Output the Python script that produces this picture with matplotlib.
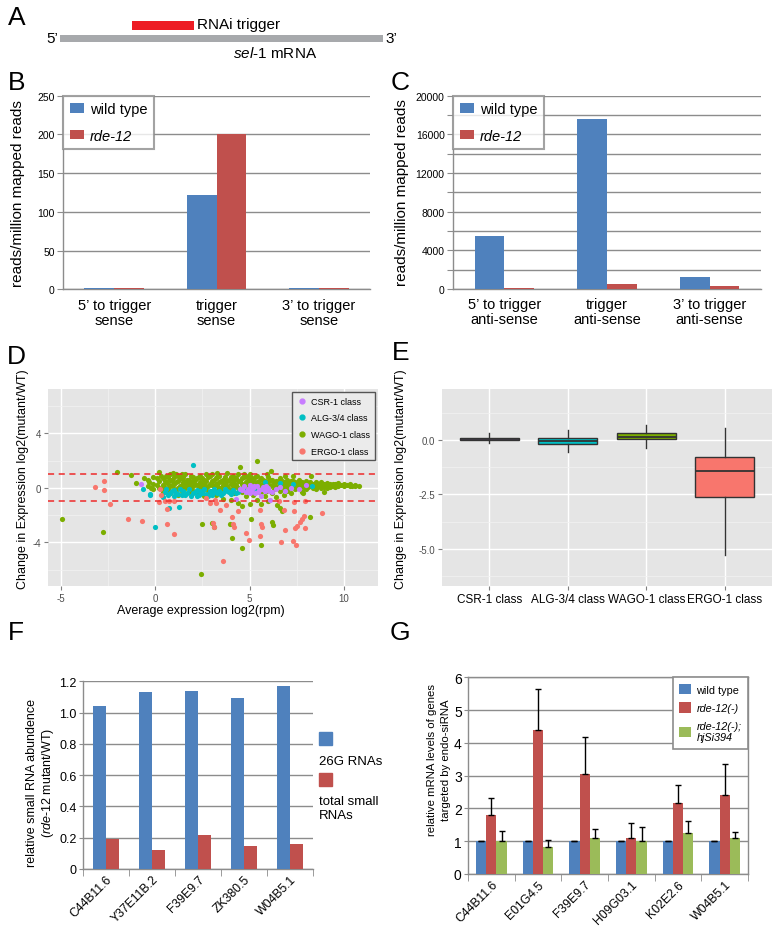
import matplotlib
matplotlib.use('Agg')
import matplotlib.pyplot as plt
from matplotlib.patches import Patch
from matplotlib.lines import Line2D
import numpy as np

plt.rcParams['font.family'] = ['Liberation Sans', 'DejaVu Sans']
plt.rcParams['mathtext.fontset'] = 'custom'
plt.rcParams['mathtext.rm'] = 'Liberation Sans'
plt.rcParams['mathtext.it'] = 'Liberation Sans:italic'
plt.rcParams['axes.unicode_minus'] = False

# ---------------- data ----------------
# A: schematic of sel-1 mRNA (arbitrary length units)
mrna_length = 1000
trigger_start, trigger_end = 223, 415

# B
b_categories = ['5\u2019 to trigger\nsense', 'trigger\nsense', '3\u2019 to trigger\nsense']
b_wild = [1.5, 122, 1.5]
b_rde = [1.5, 201, 1.5]
# C
c_categories = ['5\u2019 to trigger\nanti-sense', 'trigger\nanti-sense', '3\u2019 to trigger\nanti-sense']
c_wild = [5450, 17600, 1280]
c_rde = [100, 500, 280]

# D: scatter (average expression log2(rpm), change log2(mutant/WT))
wago_pts = [(-4.95, -2.32), (-2.76, -3.24), (-2.03, 1.16), (-1.27, 0.91), (-1.0, 0.37), (-0.57, 0.72),
            (0.23, 1.13), (0.94, 1.09), (1.45, 1.04), (2.49, -2.62), (3.0, -2.6), (3.13, -2.87),
            (2.42, -6.3), (3.98, -2.67), (4.06, -3.66), (4.5, 1.53), (4.61, -4.4), (5.07, -2.3),
            (5.39, 1.95), (5.6, -4.17), (6.13, 1.25), (6.19, -2.49), (6.22, -2.74), (6.45, -1.26),
            (6.63, -1.5), (6.72, -1.68), (8.19, -2.15), (8.27, 0.89), (7.85, -0.38), (8.93, -0.27),
            (4.72, 1.04), (5.04, 1.04), (3.3, 1.1), (2.7, 1.05), (5.9, 1.0), (6.9, 0.9), (7.3, 0.85),
            (-0.4, 0.6), (-0.4, 0.1), (-0.1, 0.8), (-0.1, 0.3), (-0.1, -0.1),
            (0.2, 0.5), (0.2, 0.0), (0.4, 0.7), (0.4, 0.2), (0.4, -0.3),
            (0.6, 0.9), (0.6, 0.4), (0.6, -0.2), (0.8, 1.0), (0.8, 0.6), (0.8, 0.1), (0.8, -0.4),
            (1.0, 0.8), (1.0, 0.3), (1.0, -0.1), (1.2, 0.5), (1.2, 0.9), (1.2, 0.0), (1.2, -0.5),
            (1.4, 0.7), (1.4, 0.2), (1.4, -0.2), (1.6, 1.0), (1.6, 0.4), (1.6, 0.0),
            (1.8, 0.6), (1.8, 0.3), (1.8, -0.3), (2.0, 0.8), (2.0, 0.5), (2.0, 0.1), (2.0, -0.2),
            (2.2, 0.7), (2.2, 0.2), (2.2, -0.4), (2.4, 0.9), (2.4, 0.4), (2.4, 0.0),
            (2.6, 0.6), (2.6, 0.3), (2.6, -0.1), (2.6, -0.6), (2.8, 0.8), (2.8, 0.1), (2.8, -0.3),
            (3.0, 1.0), (3.0, 0.5), (3.0, 0.2), (3.0, -0.2), (3.2, 0.7), (3.2, 0.3), (3.2, -0.5),
            (3.4, 0.9), (3.4, 0.4), (3.4, 0.0), (3.6, 0.6), (3.6, 0.2), (3.6, -0.3), (3.6, -0.8),
            (3.8, 1.1), (3.8, 0.5), (3.8, 0.1), (4.0, 0.8), (4.0, 0.3), (4.0, -0.2), (4.0, -0.9),
            (4.2, 0.6), (4.2, 0.2), (4.2, -0.4), (4.4, 1.0), (4.4, 0.5), (4.4, 0.0), (4.4, -1.1),
            (4.6, 0.7), (4.6, 0.3), (4.6, -0.3), (4.6, -1.3), (4.8, 0.9), (4.8, 0.4), (4.8, 0.1), (4.8, -0.6),
            (5.0, 0.8), (5.0, 0.2), (5.0, -0.2), (5.0, -1.2), (5.2, 0.6), (5.2, 0.3), (5.2, -0.5),
            (5.4, 0.9), (5.4, 0.4), (5.4, 0.0), (5.4, -0.9), (5.6, 0.7), (5.6, 0.2), (5.6, -0.3), (5.6, -1.2),
            (5.8, 0.5), (5.8, 0.1), (5.8, -0.6), (6.0, 0.8), (6.0, 0.3), (6.0, -0.1), (6.0, -1.0),
            (6.2, 0.6), (6.2, 0.2), (6.2, -0.4), (6.4, 0.5), (6.4, 0.1), (6.4, -0.7),
            (6.6, 0.7), (6.6, 0.3), (6.6, -0.2), (6.8, 0.4), (6.8, 0.0), (6.8, -0.5),
            (7.0, 0.6), (7.0, 0.2), (7.0, -0.2), (7.2, 0.5), (7.2, 0.1), (7.2, -0.4),
            (7.4, 0.4), (7.4, 0.2), (7.4, -0.1), (7.6, 0.6), (7.6, 0.3), (7.6, 0.0),
            (7.8, 0.4), (7.8, 0.1), (7.8, -0.3), (8.0, 0.5), (8.0, 0.2), (8.0, -0.1),
            (8.2, 0.4), (8.2, 0.1), (8.2, 0.3), (8.5, 0.45), (8.5, 0.15), (8.5, -0.1),
            (8.8, 0.4), (8.8, 0.2), (8.8, 0.0), (9.1, 0.35), (9.1, 0.15), (9.1, 0.0),
            (9.4, 0.3), (9.4, 0.1), (9.7, 0.35), (9.7, 0.1), (10.0, 0.3), (10.0, 0.15),
            (10.3, 0.25), (10.3, 0.1), (10.6, 0.2), (10.6, 0.1), (10.8, 0.15),
            (-0.3, 0.4), (-0.2, 0.0), (0.1, 0.7), (0.1, 0.2), (0.3, 0.9), (0.3, -0.1),
            (0.5, 0.5), (0.5, 0.0), (0.7, 0.8), (0.7, 0.3), (0.7, -0.1), (0.9, 0.6), (0.9, 0.2),
            (1.1, 1.0), (1.1, 0.4), (1.1, -0.3), (1.3, 0.7), (1.3, 0.1), (1.5, 0.8), (1.5, 0.4),
            (1.5, -0.1), (1.7, 0.6), (1.7, 0.2), (1.9, 0.9), (1.9, 0.4), (1.9, 0.0), (2.1, 0.6),
            (2.1, 0.3), (2.3, 0.8), (2.3, 0.1), (2.5, 0.7), (2.5, 0.2), (2.5, -0.2), (2.7, 0.5),
            (2.7, 0.0), (2.9, 0.9), (2.9, 0.3), (3.1, 0.6), (3.1, 0.1), (3.3, 0.8), (3.3, 0.2),
            (3.3, -0.2), (3.5, 0.5), (3.5, 0.0), (3.7, 0.8), (3.7, 0.3), (3.9, 0.6), (3.9, -0.1),
            (4.1, 0.9), (4.1, 0.4), (4.1, 0.0), (4.3, 0.7), (4.3, 0.2), (4.5, 0.5), (4.5, -0.2),
            (4.7, 0.8), (4.7, 0.2), (4.9, 0.6), (4.9, -0.1), (5.1, 0.7), (5.1, 0.4), (5.3, 0.8),
            (5.3, 0.1), (5.5, 0.5), (5.5, -0.3), (5.7, 0.6), (5.7, 0.3), (5.9, 0.4), (5.9, -0.2),
            (6.1, 0.6), (6.1, 0.1), (6.3, 0.4), (6.3, -0.1), (6.5, 0.5), (6.5, 0.0), (6.7, 0.5),
            (6.7, 0.1), (6.9, 0.3), (6.9, -0.1), (7.1, 0.4), (7.1, 0.0), (7.3, 0.5), (7.3, 0.2),
            (7.5, 0.3), (7.5, 0.0), (7.7, 0.4), (7.7, 0.1), (7.9, 0.3), (7.9, 0.0), (8.1, 0.35),
            (8.1, 0.05), (8.35, 0.3), (8.35, 0.0), (8.65, 0.3), (8.65, 0.1), (8.95, 0.25),
            (8.95, 0.05), (9.25, 0.25), (9.25, 0.05), (9.55, 0.25), (9.55, 0.05), (9.85, 0.2),
            (10.15, 0.2), (10.45, 0.15)]
alg_pts = [(0.5, -0.3), (0.7, -0.5), (0.9, -0.2), (1.0, -0.6), (1.1, -0.35), (1.3, -0.1), (1.4, -0.5),
           (1.5, -0.25), (1.7, -0.4), (1.8, -0.1), (1.9, -0.6), (2.1, -0.3), (2.2, -0.15), (2.3, -0.5),
           (2.5, -0.35), (2.6, -0.05), (2.7, -0.45), (2.9, -0.25), (3.0, -0.55), (3.1, -0.1), (3.3, -0.4),
           (3.4, -0.2), (3.6, -0.35), (3.7, -0.05), (3.9, -0.3), (4.1, -0.15), (4.3, -0.4), (4.5, -0.1),
           (4.8, -0.25), (5.0, 0.05), (5.3, -0.2), (5.8, 0.4), (6.6, 0.35), (7.3, 0.3), (8.3, 0.1),
           (2.01, 1.68), (1.26, -1.43), (0.72, -1.51), (0.44, -0.64), (0.02, -2.9), (-0.62, -0.1),
           (-0.27, -0.45), (-0.25, -0.55), (0.6, -0.1), (0.8, -0.35), (1.2, -0.45), (1.6, -0.55),
           (2.0, -0.4), (2.4, -0.25), (2.8, -0.6), (3.2, -0.3), (3.5, -0.5), (3.8, -0.2), (4.0, -0.45),
           (4.4, -0.3), (1.0, -0.15), (2.2, -0.6), (3.0, -0.35)]
csr_pts = [(-0.74, 0.3), (4.5, -0.1), (4.7, 0.1), (4.8, -0.3), (4.9, -0.05), (5.0, 0.2), (5.1, -0.2),
           (5.2, 0.0), (5.3, -0.4), (5.4, 0.1), (5.5, -0.15), (5.6, -0.6), (5.7, 0.05), (5.8, -0.25),
           (5.9, -0.1), (6.0, 0.0), (6.2, -0.3), (6.4, -0.1), (6.6, 0.05), (6.9, -0.2), (7.2, 0.0),
           (7.6, -0.1), (8.0, 0.2), (4.3, -0.8), (6.1, -0.9), (5.05, -0.35), (5.25, 0.15),
           (5.45, -0.3), (5.65, -0.1), (5.85, 0.1), (6.05, -0.2), (5.15, 0.05), (4.6, -0.15)]
ergo_pts = [(-3.17, 0.07), (-2.7, 0.52), (-2.69, -0.15), (-2.37, -1.18), (-1.41, -2.25), (-0.67, -2.42),
            (0.27, -0.1), (0.33, -0.5), (0.23, -1.04), (0.5, -1.0), (0.62, -1.58), (0.73, -1.0),
            (0.98, -1.0), (0.64, -2.67), (1.0, -3.36), (2.7, -0.75), (2.92, -1.1), (3.18, -0.9),
            (3.2, -1.1), (3.41, -1.63), (3.76, -1.26), (3.04, -2.57), (3.1, -2.86), (3.59, -5.33),
            (4.06, -2.12), (4.12, -2.67), (4.2, -2.86), (4.37, -1.68), (4.82, -3.28), (4.98, -3.85),
            (5.57, -3.56), (5.66, -2.86), (5.57, -1.63), (5.62, -2.67), (6.54, -1.0), (6.8, -1.63),
            (7.33, -1.06), (7.95, -1.0), (7.37, -1.7), (8.84, -1.83), (7.87, -2.05), (7.78, -2.25),
            (7.69, -2.49), (7.51, -2.81), (7.42, -2.91), (7.95, -2.94), (6.86, -3.11), (6.65, -3.97),
            (7.3, -3.9), (7.47, -4.17)]

# E: boxplot statistics
e_classes = ['CSR-1 class', 'ALG-3/4 class', 'WAGO-1 class', 'ERGO-1 class']
e_whislo = [-0.15, -0.55, -0.38, -5.3]
e_q1 = [0.0, -0.2, 0.02, -2.62]
e_med = [0.05, -0.07, 0.15, -1.42]
e_q3 = [0.1, 0.07, 0.3, -0.8]
e_whishi = [0.3, 0.45, 0.7, 0.55]

# F
f_genes = ['C44B11.6', 'Y37E11B.2', 'F39E9.7', 'ZK380.5', 'W04B5.1']
f_26g = [1.044, 1.134, 1.138, 1.095, 1.172]
f_total = [0.19, 0.124, 0.22, 0.147, 0.16]

# G
g_genes = ['C44B11.6', 'E01G4.5', 'F39E9.7', 'H09G03.1', 'K02E2.6', 'W04B5.1']
g_wt = [1, 1, 1, 1, 1, 1]
g_wt_err = [0, 0, 0, 0, 0, 0]
g_rde = [1.80, 4.40, 3.05, 1.09, 2.17, 2.42]
g_rde_err = [0.51, 1.24, 1.12, 0.46, 0.53, 0.94]
g_rescue = [1.01, 0.81, 1.09, 1.0, 1.24, 1.09]
g_rescue_err = [0.29, 0.22, 0.28, 0.42, 0.37, 0.20]

# ---------------- styling ----------------
BLUE, RED, GREEN = '#4F81BD', '#C0504D', '#9BBB59'
GRID = '#8c8c8c'
GG = {'ERGO': '#F8766D', 'WAGO': '#7CAE00', 'ALG': '#00BFC4', 'CSR': '#C77CFF'}

W, H = 779, 929
fig = plt.figure(figsize=(W / 100, H / 100), dpi=100)


def ax_px(l, t, r, b):
    return fig.add_axes([l / W, 1 - b / H, (r - l) / W, (b - t) / H])


def ftext(x, y, s, **kw):
    return fig.text(x / W, 1 - y / H, s, **kw)


# panel letters
for letter, (lx, ly) in {'A': (8, 6), 'B': (8, 71), 'C': (391, 71), 'D': (7, 345),
                         'E': (392, 341), 'F': (8, 621), 'G': (390, 621)}.items():
    ftext(lx, ly, letter, fontsize=19, va='top', ha='left')

# ---------------- A ----------------
axA = ax_px(60, 15, 383, 60)
axA.set_xlim(0, mrna_length)
axA.set_ylim(60, 15)
axA.axis('off')
axA.barh(39.5, mrna_length, left=0, height=7, color='#A7A9AC')
axA.barh(26.5, trigger_end - trigger_start, left=trigger_start, height=9, color='#ED1C24')
ftext(58, 39, '5\u2019', fontsize=11, ha='right', va='center')
ftext(385, 39, '3\u2019', fontsize=11, ha='left', va='center')
ftext(197, 25, 'RNAi trigger', fontsize=11, ha='left', va='center')
ftext(275, 53, r'$\mathit{sel}$-$\mathit{1}$ mRNA', fontsize=11, ha='center', va='center')


# ---------------- B & C ----------------
def excel_bars(ax, cats, wild, rde, ymax, step, label_every):
    x = np.arange(len(cats))
    w = 0.29
    ax.bar(x - w / 2, wild, w, color=BLUE, zorder=3)
    ax.bar(x + w / 2, rde, w, color=RED, zorder=3)
    ax.set_xlim(-0.5, len(cats) - 0.5)
    ax.set_ylim(0, ymax)
    ticks = np.arange(0, ymax + 1, step)
    ax.set_yticks(ticks)
    ax.set_yticklabels([str(int(t)) if t % label_every == 0 else '' for t in ticks])
    ax.yaxis.grid(True, color=GRID, lw=1)
    ax.set_axisbelow(True)
    for s in ['top', 'right']:
        ax.spines[s].set_visible(False)
    for s in ['left', 'bottom']:
        ax.spines[s].set_color(GRID)
        ax.spines[s].set_linewidth(1)
    ax.tick_params(axis='y', length=4, color=GRID, labelsize=7.5, pad=2)
    ax.set_xticks(x)
    ax.set_xticklabels(cats, fontsize=10.5, linespacing=1.1)
    ax.tick_params(axis='x', length=0, pad=6)
    leg = ax.legend([Patch(facecolor=BLUE), Patch(facecolor=RED)], ['wild type', 'rde-12'],
                    loc='upper left', bbox_to_anchor=(0, 1), borderaxespad=0, frameon=True,
                    fancybox=False, edgecolor=GRID, fontsize=10.5, handlelength=1.0,
                    handleheight=0.6, handletextpad=0.4, labelspacing=0.85, borderpad=0.45)
    leg.get_frame().set_linewidth(1.5)
    leg.get_texts()[1].set_fontstyle('italic')


axB = ax_px(63, 96.7, 370, 290.3)
excel_bars(axB, b_categories, b_wild, b_rde, 250, 50, 50)
ftext(18, 194, 'reads/million mapped reads', fontsize=11, rotation=90, ha='center', va='center')

axC = ax_px(453, 96.7, 761, 290)
excel_bars(axC, c_categories, c_wild, c_rde, 20000, 2000, 4000)
ftext(402, 193, 'reads/million mapped reads', fontsize=11, rotation=90, ha='center', va='center')


# ---------------- D ----------------
def gg_style(ax):
    ax.set_facecolor('#E5E5E5')
    for s in ax.spines.values():
        s.set_visible(False)
    ax.grid(which='major', color='white', lw=1.0)
    ax.grid(which='minor', color='#F2F2F2', lw=0.5)
    ax.set_axisbelow(True)
    ax.tick_params(which='major', length=3, color='#7f7f7f', labelsize=7, labelcolor='#4d4d4d', pad=2)
    ax.tick_params(which='minor', length=0)


axD = ax_px(48, 390, 378, 587)
gg_style(axD)
axD.set_xlim(-5.67, 11.8)
axD.set_ylim(-7.2, 7.25)
axD.set_xticks([-5, 0, 5, 10])
axD.set_xticks([-2.5, 2.5, 7.5], minor=True)
axD.set_yticks([-4, 0, 4])
axD.set_yticks([-6, -2, 2, 6], minor=True)
for key, pts in [('WAGO', wago_pts), ('ALG', alg_pts), ('CSR', csr_pts), ('ERGO', ergo_pts)]:
    arr = np.array(pts)
    axD.scatter(arr[:, 0], arr[:, 1], s=14, color=GG[key], linewidths=0, zorder=3)
for yv in (1, -1):
    axD.axhline(yv, color='#EE2A2A', ls=(0, (4, 3)), lw=1.1, zorder=4)
handles = [Line2D([], [], marker='o', ls='', color=GG[k], markersize=3.5) for k in ['CSR', 'ALG', 'WAGO', 'ERGO']]
legD = axD.legend(handles, ['CSR-1 class', 'ALG-3/4 class', 'WAGO-1 class', 'ERGO-1 class'],
                  loc='upper right', bbox_to_anchor=(1, 1), borderaxespad=0.35, frameon=True,
                  fancybox=False, edgecolor='#555555', facecolor='#EBEBEB', framealpha=1,
                  fontsize=6.5, labelspacing=0.85, handlelength=1.2, handletextpad=0.4, borderpad=0.5)
legD.get_frame().set_linewidth(1.0)
ftext(23, 479, 'Change in Expression log2(mutant/WT)', fontsize=9.0, rotation=90, ha='center', va='center')
ftext(201, 611, 'Average expression log2(rpm)', fontsize=9.0, ha='center', va='center')

# ---------------- E ----------------
axE = ax_px(442, 390, 772, 587)
gg_style(axE)
stats = [dict(med=m, q1=a, q3=b, whislo=lo, whishi=hi, label=c)
         for c, lo, a, m, b, hi in zip(e_classes, e_whislo, e_q1, e_med, e_q3, e_whishi)]
bp = axE.bxp(stats, positions=range(1, 5), widths=0.75, patch_artist=True, showfliers=False,
             showcaps=False,
             boxprops=dict(edgecolor='#333333', linewidth=1.0),
             medianprops=dict(color='#333333', linewidth=1.3),
             whiskerprops=dict(color='#333333', linewidth=1.0))
for patch, k in zip(bp['boxes'], ['CSR', 'ALG', 'WAGO', 'ERGO']):
    patch.set_facecolor(GG[k])
axE.set_xlim(0.4, 4.6)
axE.set_ylim(-6.7, 2.33)
axE.set_xticks(range(1, 5))
axE.set_xticklabels(e_classes)
axE.set_yticks([-5, -2.5, 0])
axE.set_yticklabels(['-5.0', '-2.5', '0.0'])
axE.set_yticks([-6.25, -3.75, -1.25, 1.25], minor=True)
axE.tick_params(axis='x', which='major', labelsize=8.5, labelcolor='black')
ftext(401, 479, 'Change in Expression log2(mutant/WT)', fontsize=9.0, rotation=90, ha='center', va='center')


# ---------------- F ----------------
def excel_axes(ax, box=False):
    for s in ['top', 'right']:
        ax.spines[s].set_visible(box)
    for s in ax.spines.values():
        s.set_color(GRID)
        s.set_linewidth(1)
    ax.yaxis.grid(True, color=GRID, lw=1)
    ax.set_axisbelow(True)
    ax.tick_params(axis='y', length=4, color=GRID, labelsize=9, pad=2)
    ax.tick_params(axis='x', which='major', length=0, labelsize=8.8, pad=3)
    ax.tick_params(axis='x', which='minor', length=5, color=GRID)


axF = ax_px(83, 682.3, 313, 870)
xf = np.arange(len(f_genes))
wf = 0.28
axF.bar(xf - wf / 2, f_26g, wf, color=BLUE, zorder=3)
axF.bar(xf + wf / 2, f_total, wf, color=RED, zorder=3)
axF.set_xlim(-0.5, len(f_genes) - 0.5)
axF.set_ylim(0, 1.2)
axF.set_yticks(np.arange(0, 1.21, 0.2))
axF.set_yticklabels(['0', '0.2', '0.4', '0.6', '0.8', '1.0', '1.2'])
axF.set_xticks(xf)
axF.set_xticks(np.arange(-0.5, len(f_genes), 1), minor=True)
axF.set_xticklabels(f_genes, rotation=45, ha='right', rotation_mode='anchor')
excel_axes(axF)
axF.tick_params(axis='y', length=3, pad=1.5)
ftext(32, 783, 'relative small RNA abundence', fontsize=9, rotation=90, ha='center', va='center')
ftext(48, 783, r'($\mathit{rde}$-$\mathit{12}$ mutant/WT)', fontsize=9, rotation=90, ha='center', va='center')
# legend (outside, Excel style)
axFl = ax_px(315, 725, 390, 830)
axFl.set_xlim(315, 390)
axFl.set_ylim(830, 725)
axFl.axis('off')
axFl.add_patch(plt.Rectangle((319, 733), 13, 13, color=BLUE))
axFl.add_patch(plt.Rectangle((319, 774), 13, 13, color=RED))
ftext(319, 762, '26G RNAs', fontsize=9.5, ha='left', va='center')
ftext(319, 809, 'total small\nRNAs', fontsize=9.5, ha='left', va='center', linespacing=1.15)

# ---------------- G ----------------
axG = ax_px(468, 678.3, 748, 875)
xg = np.arange(len(g_genes))
wg = 0.22
for off, vals, errs, col in [(-wg, g_wt, g_wt_err, BLUE), (0, g_rde, g_rde_err, RED),
                             (wg, g_rescue, g_rescue_err, GREEN)]:
    axG.bar(xg + off, vals, wg, color=col, zorder=3)
    axG.errorbar(xg + off, vals, yerr=[np.zeros(len(vals)), errs], fmt='none', ecolor='black',
                 elinewidth=1, capsize=2, capthick=1, zorder=4)
axG.set_xlim(-0.5, len(g_genes) - 0.5)
axG.set_ylim(0, 6)
axG.set_yticks(range(0, 7))
axG.set_xticks(xg)
axG.set_xticks(np.arange(-0.5, len(g_genes), 1), minor=True)
axG.set_xticklabels(g_genes, rotation=45, ha='right', rotation_mode='anchor')
excel_axes(axG, box=True)
axG.tick_params(axis='y', labelsize=10, pad=1.5, length=3)
legG = axG.legend([Patch(facecolor=BLUE), Patch(facecolor=RED), Patch(facecolor=GREEN)],
                  ['wild type', 'rde-12(-)', 'rde-12(-);\nhjSi394'],
                  loc='upper right', bbox_to_anchor=(1, 1), borderaxespad=0, frameon=True,
                  fancybox=False, edgecolor=GRID, framealpha=1, fontsize=7.8, handlelength=1.1,
                  handleheight=1.1, handletextpad=0.5, labelspacing=0.7, borderpad=0.6)
legG.get_frame().set_linewidth(1.2)
for t in legG.get_texts()[1:]:
    t.set_fontstyle('italic')
ftext(432, 760, 'relative mRNA levels of genes', fontsize=8.2, rotation=90, ha='center', va='center')
ftext(446, 760, 'targeted by endo-siRNA', fontsize=8.2, rotation=90, ha='center', va='center')

fig.savefig('out.png', dpi=100)
